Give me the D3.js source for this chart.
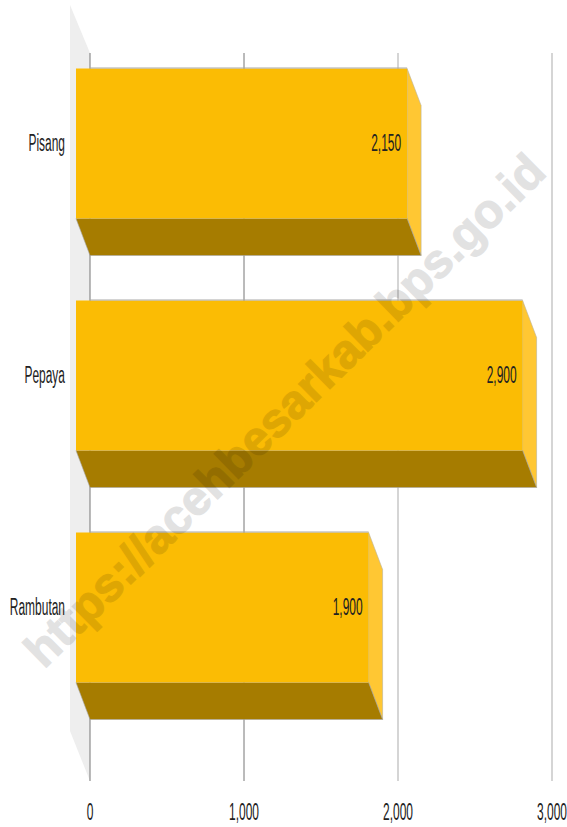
<!DOCTYPE html>
<html><head><meta charset="utf-8">
<script src="https://cdn.jsdelivr.net/npm/d3@7/dist/d3.min.js"></script>
<style>html,body{margin:0;padding:0;background:#fff}svg{display:block}text{font-family:"Liberation Sans",Arial,sans-serif}</style>
</head><body><svg id="c" width="567" height="827"></svg>
<script>
const categories=["Pisang","Pepaya","Rambutan"];
const values=[2150,2900,1900];
const xTicks=[0,1000,2000,3000];
const watermark="https://acehbesarkab.bps.go.id";
const svg=d3.select("#c");
const x=d3.scaleLinear().domain([0,3000]).range([90,552]);
const y=d3.scaleBand().domain(categories).range([68.5,682.5]).paddingInner(82/232).paddingOuter(0);
const dx=14,dy=37,wallDx=20,wallTop=53,wallBottom=781,wallDy=50;
const fmt=d3.format(",");
// wall
svg.append("polygon").attr("fill","#eeeeee").attr("points",[[x(0)-wallDx,wallTop-wallDy+2],[x(0),wallTop],[x(0),wallBottom],[x(0)-wallDx,wallBottom-wallDy]].join(" "));
// grid
svg.selectAll("line.g").data(xTicks).join("line").attr("class","g")
 .attr("x1",d=>x(d)).attr("x2",d=>x(d)).attr("y1",wallTop).attr("y2",wallBottom)
 .attr("stroke",d=>d<=1000?"#777777":"#ababab").attr("stroke-width",1);
// bars
const band=y.bandwidth();
const g=svg.selectAll("g.b").data(categories).join("g").attr("class","b");
g.append("polygon").attr("fill","#ffc733").attr("stroke","#b9b29c").attr("stroke-width",.6)
 .attr("points",(c,i)=>{const r=x(values[i]),t=y(c);return [[r-dx,t],[r,t+dy],[r,t+band+dy],[r-dx,t+band]].join(" ")});
g.append("polygon").attr("fill","#a67c00").attr("stroke","#a8a8a8").attr("stroke-width",.6)
 .attr("points",(c,i)=>{const r=x(values[i]),t=y(c)+band;return [[x(0)-dx,t],[r-dx,t],[r,t+dy],[x(0),t+dy]].join(" ")});
g.append("rect").attr("fill","#fbbc04").attr("x",x(0)-dx).attr("y",c=>y(c))
 .attr("width",(c,i)=>x(values[i])-x(0)).attr("height",band);
g.append("line").attr("stroke","#a8a8a8").attr("stroke-width",1)
 .attr("x1",(c,i)=>x(0)).attr("x2",(c,i)=>x(values[i])-dx).attr("y1",c=>y(c)-.5).attr("y2",c=>y(c)-.5);
// text helper: condensed horizontally
const sx=0.52,fs=23;
function label(px,py,anchor,s){
  svg.append("text").attr("transform",`translate(${px},${py}) scale(${sx},1)`)
   .attr("text-anchor",anchor).attr("font-size",fs).attr("fill","#222").text(s);
}
categories.forEach((c,i)=>{
  const cy=y(c)+band/2;
  label(65,cy+7,"end",c);
  label(x(values[i])-dx-6,cy+7,"end",fmt(values[i]));
});
xTicks.forEach(t=>label(x(t),820,"middle",fmt(t)));
// watermark
svg.append("text").attr("transform","translate(296,422) rotate(-44.5)").attr("text-anchor","middle")
 .attr("font-size",48).attr("font-weight","bold").attr("fill","#000").attr("stroke","#000").attr("stroke-width",1.2).attr("opacity",.11)
 .text(watermark);
</script></body></html>
